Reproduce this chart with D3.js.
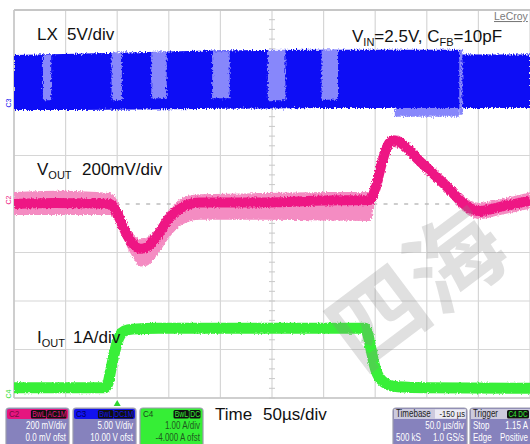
<!DOCTYPE html>
<html><head><meta charset="utf-8">
<script src="https://cdn.jsdelivr.net/npm/d3@7"></script>
<style>
html,body{margin:0;padding:0;background:#fff;}
svg{display:block;font-family:"Liberation Sans",Arial,sans-serif;}
</style></head><body>
<svg id="chart" width="530" height="444"></svg>
<script>
// ---------------- DATA ----------------
// time axis (µs), 50 µs/div, trigger at 0
const timeDomain = [-100, 400];
const timeTicks = d3.range(-100, 401, 50);
const divTicks = d3.range(-4, 5, 1);

// LX (C3, V): envelope of the switching band
const lxTime = [-100, -40, 20, 80, 140, 200, 260, 331, 333, 400];
const lxHigh = [5.35, 5.5, 5.65, 5.8, 5.88, 5.9, 5.9, 5.9, 5.4, 5.4];
const lxLow  = [-0.3, -0.3, -0.25, -0.2, -0.15, -0.1, -0.1, -0.1, -0.1, -0.1];
// pulse-skipping (persistence) regions of LX
const lxSkipStart  = [-72, -5.5, 33, 92, 146, 198, 331.5, 269];
const lxSkipEnd    = [-64, 4.5, 48, 109, 163, 214, 334.5, 331.5];
const lxSkipTop    = [5.36, 5.6, 5.67, 5.75, 5.88, 5.9, 5.9, -0.1];
const lxSkipBottom = [0.7, 0.7, 0.9, 0.9, 0.7, 0.75, -0.8, -1.0];

// VOUT (C2, mV, AC coupled)
const voutTime  = [-100, -60, -20, -7, 0, 3, 10, 16, 22, 28, 38, 51, 63, 80, 143, 200, 245, 251, 256, 261, 266, 272, 293, 318, 340, 350, 371, 400];
const voutMid   = [0, 4, 2, 0, -38, -66, -132, -168, -185, -180, -136, -54, -14, 6, 6, 14, 16, 78, 161, 231, 262, 258, 177, 78, -12, -29, -12, 14];
const voutUpper = [50, 55, 50, 45, 15, -20, -90, -125, -145, -140, -100, -20, 25, 40, 45, 50, 50, 108, 190, 258, 285, 282, 205, 108, 20, 5, 20, 48];
const voutLower = [-45, -45, -45, -45, -85, -110, -180, -225, -258, -255, -215, -135, -85, -65, -65, -68, -70, 45, 130, 200, 235, 232, 150, 48, -45, -62, -45, -20];

// IOUT (C4, A)
const ioutTime  = [-100, -12, -9, -6, -3, 0, 3, 7, 15, 40, 120, 200, 240, 243, 246, 249, 252, 256, 262, 272, 300, 400];
const ioutValue = [0.21, 0.21, 0.3, 0.6, 0.9, 1.15, 1.3, 1.38, 1.42, 1.44, 1.44, 1.44, 1.44, 1.3, 1.0, 0.7, 0.5, 0.37, 0.28, 0.23, 0.21, 0.2];

// channel scale settings: [V/div, offset]
const c2Setting = [200, 0];
const c3Setting = [5, 10];
const c4Setting = [1, -4];

// descriptor boxes
const descTitles   = ["C2", "C3", "C4"];
const descTags     = [["BwL", "AC1M"], ["BwL", "DC1M"], ["BwL", "DC"]];
const descScale    = ["200 mV/div", "5.00 V/div", "1.00 A/div"];
const descOffset   = ["0.0 mV ofst", "10.00 V ofst", "-4.000 A ofst"];
const timebaseInfo = ["Timebase", "-150 µs", "50.0 µs/div", "500 kS", "1.0 GS/s"];
const triggerInfo  = ["Trigger", "C4 DC", "Stop", "1.15 A", "Edge", "Positive"];
const watermarkText = "四海";

// ---------------- DRAWING ----------------
const svg = d3.select("#chart");
const L = 14, R = 530, T = 10, B = 398;
const x = d3.scaleLinear().domain(timeDomain).range([L, R]);
const yDiv = d3.scaleLinear().domain([-4, 4]).range([B, T]);
function chanScale(s) { // div = (v + offset)/vdiv
  return d3.scaleLinear().domain([-4 * s[0] - s[1], 4 * s[0] - s[1]]).range([B, T]);
}
const yVout = chanScale(c2Setting);
const yLX = chanScale(c3Setting);
const yIout = chanScale(c4Setting);

const defs = svg.append("defs");
defs.append("clipPath").attr("id", "plot").append("rect")
  .attr("x", L).attr("y", T).attr("width", R - L).attr("height", B - T);
function fuzz(id, freq, scale, seed) {
  const f = defs.append("filter").attr("id", id).attr("filterUnits", "userSpaceOnUse")
    .attr("x", 0).attr("y", 0).attr("width", 530).attr("height", 444);
  f.append("feTurbulence").attr("type", "fractalNoise").attr("baseFrequency", freq)
    .attr("numOctaves", 2).attr("seed", seed).attr("result", "n");
  f.append("feDisplacementMap").attr("in", "SourceGraphic").attr("in2", "n")
    .attr("scale", scale).attr("xChannelSelector", "R").attr("yChannelSelector", "G");
}
fuzz("fz1", "0.9 0.4", 5, 2);
fuzz("fz2", "0.8 0.5", 4, 5);
fuzz("fz3", "0.7 0.5", 3, 8);

// grid
const grid = svg.append("g");
grid.selectAll("line.v").data(timeTicks).enter().append("line")
  .attr("x1", d => x(d)).attr("x2", d => x(d)).attr("y1", T).attr("y2", B)
  .attr("stroke", "#d6d6d6").attr("stroke-width", 1.2);
grid.selectAll("line.h").data(divTicks.filter(d => d !== 0)).enter().append("line")
  .attr("x1", L).attr("x2", R).attr("y1", d => yDiv(d)).attr("y2", d => yDiv(d))
  .attr("stroke", "#d6d6d6").attr("stroke-width", 1.2);
// center horizontal: dotted
const step = x(10) - x(0);
grid.append("line").attr("x1", L).attr("x2", R).attr("y1", yDiv(0)).attr("y2", yDiv(0))
  .attr("stroke", "#bdbdbd").attr("stroke-width", 1.3)
  .attr("stroke-dasharray", `4 ${step - 4}`).attr("stroke-dashoffset", 2);
// center vertical ticks
const xc = x(150);
grid.selectAll("line.t").data(d3.range(-4, 4.01, 0.2)).enter().append("line")
  .attr("x1", xc - 3).attr("x2", xc + 3).attr("y1", d => yDiv(d)).attr("y2", d => yDiv(d))
  .attr("stroke", "#c8c8c8").attr("stroke-width", 1);
// border
grid.append("line").attr("x1", L).attr("x2", R).attr("y1", T).attr("y2", T).attr("stroke", "#c6c6c6").attr("stroke-width", 2);
grid.append("line").attr("x1", L).attr("x2", L).attr("y1", T).attr("y2", B).attr("stroke", "#c6c6c6").attr("stroke-width", 1.5);
grid.append("line").attr("x1", L).attr("x2", R).attr("y1", B).attr("y2", B).attr("stroke", "#c6c6c6").attr("stroke-width", 1.5);

const plot = svg.append("g").attr("clip-path", "url(#plot)");

// LX
const lxPts = d3.zip(lxTime, lxHigh, lxLow);
plot.append("path").datum(lxPts)
  .attr("d", d3.area().x(d => x(d[0])).y0(d => yLX(d[2])).y1(d => yLX(d[1])))
  .attr("fill", "#0a0af5").attr("filter", "url(#fz1)");
plot.append("g").attr("filter", "url(#fz1)").selectAll("rect")
  .data(d3.zip(lxSkipStart, lxSkipEnd, lxSkipTop, lxSkipBottom)).enter().append("rect")
  .attr("x", d => x(d[0])).attr("width", d => x(d[1]) - x(d[0]))
  .attr("y", d => yLX(d[2])).attr("height", d => yLX(d[3]) - yLX(d[2]))
  .attr("fill", "#8787fb");

// VOUT
const vPts = d3.zip(voutTime, voutMid, voutUpper, voutLower);
plot.append("path").datum(vPts)
  .attr("d", d3.area().x(d => x(d[0])).y0(d => yVout(d[3])).y1(d => yVout(d[2])).curve(d3.curveMonotoneX))
  .attr("fill", "#f48cc2").attr("filter", "url(#fz2)");
plot.append("path").datum(vPts)
  .attr("d", d3.line().x(d => x(d[0])).y(d => yVout(d[1])).curve(d3.curveMonotoneX))
  .attr("fill", "none").attr("stroke", "#ee1784").attr("stroke-width", 10)
  .attr("stroke-linejoin", "round").attr("filter", "url(#fz2)");

// IOUT
plot.append("path").datum(d3.zip(ioutTime, ioutValue))
  .attr("d", d3.line().x(d => x(d[0])).y(d => yIout(d[1])).curve(d3.curveMonotoneX))
  .attr("fill", "none").attr("stroke", "#38ef38").attr("stroke-width", 11)
  .attr("stroke-linejoin", "round").attr("filter", "url(#fz3)");

// watermark
svg.append("text").text(watermarkText)
  .attr("transform", "translate(422,296) rotate(-37)")
  .attr("text-anchor", "middle").attr("dominant-baseline", "middle")
  .attr("font-family", "'Noto Sans CJK SC'").attr("font-size", 96).attr("font-weight", 700)
  .attr("fill", "#8a8a8a").attr("opacity", 0.26);

// channel markers
const markers = [["C3", yLX(0), "#1010f0"], ["C2", yVout(0), "#ee1784"], ["C4", yIout(0), "#30dd30"]];
markers.forEach(m => {
  svg.append("text").text(m[0])
    .attr("transform", `translate(11,${m[1] - 4}) rotate(-90)`)
    .attr("text-anchor", "middle").attr("font-size", 7).attr("fill", m[2]);
});
// trigger marker
const tx = x(0);
svg.append("path").attr("d", `M${tx - 3.5},406 L${tx},400 L${tx + 3.5},406 Z`).attr("fill", "#2fd52f");

// labels
const lab = svg.append("g").attr("font-size", 17).attr("fill", "#111");
lab.append("text").attr("x", 37).attr("y", 40).text("LX");
lab.append("text").attr("x", 67).attr("y", 40).text("5V/div");
const vin = lab.append("text").attr("x", 352).attr("y", 42);
vin.append("tspan").text("V");
vin.append("tspan").attr("font-size", 11).attr("dy", 4).text("IN");
vin.append("tspan").attr("dy", -4).text("=2.5V, C");
vin.append("tspan").attr("font-size", 11).attr("dy", 4).text("FB");
vin.append("tspan").attr("dy", -4).text("=10pF");
const vo = lab.append("text").attr("x", 37).attr("y", 175);
vo.append("tspan").text("V");
vo.append("tspan").attr("font-size", 11).attr("dy", 4).text("OUT");
lab.append("text").attr("x", 82).attr("y", 175).text("200mV/div");
const io = lab.append("text").attr("x", 37).attr("y", 343);
io.append("tspan").text("I");
io.append("tspan").attr("font-size", 11).attr("dy", 4).text("OUT");
lab.append("text").attr("x", 73).attr("y", 343).text("1A/div");
lab.append("text").attr("x", 215).attr("y", 420).text("Time");
lab.append("text").attr("x", 263).attr("y", 420).text("50µs/div");
svg.append("text").attr("x", 494).attr("y", 20).attr("font-size", 10.5)
  .attr("fill", "#7a7a7a").attr("text-decoration", "underline").text("LeCroy");

// condensed text helper
function ctext(g, xp, yp, str, anchor, size, fill, sx) {
  return g.append("text").attr("transform", `translate(${xp},${yp}) scale(${sx || 0.8},1)`)
    .attr("text-anchor", anchor).attr("font-size", size).attr("fill", fill).text(str);
}

// descriptor boxes
const boxX = [6, 73, 140], boxW = 63, bTop = 408, bBot = 448;
const chanCol = ["#e6157f", "#1212ee", "#36ee36"];
const titleCol = ["#7a0a44", "#00005a", "#1a4a1a"];
descTitles.forEach((t, i) => {
  const g = svg.append("g");
  const x0 = boxX[i];
  const isC4 = i === 2;
  g.append("rect").attr("x", x0).attr("y", bTop).attr("width", boxW).attr("height", bBot - bTop)
    .attr("rx", 3).attr("fill", isC4 ? chanCol[i] : "#8682bd").attr("stroke", "#9c9cae").attr("stroke-width", 1.2);
  if (!isC4) g.append("rect").attr("x", x0 + 1).attr("y", bTop + 1).attr("width", boxW - 2).attr("height", 10)
    .attr("rx", 2).attr("fill", chanCol[i]);
  ctext(g, x0 + 3, bTop + 9, t, "start", 9, titleCol[i], 0.9);
  const tags = descTags[i];
  const tagW = tags.map(s => s.length * 4.3 + 3);
  let tx2 = x0 + boxW - 2;
  for (let k = tags.length - 1; k >= 0; k--) {
    const tx1 = tx2 - tagW[k];
    g.append("rect").attr("x", tx1).attr("y", bTop + 2).attr("width", tagW[k] - 0.5).attr("height", 8.5)
      .attr("rx", 1.5).attr("fill", "#111");
    ctext(g, (tx1 + tx2) / 2, bTop + 9, tags[k], "middle", 8.5, isC4 ? "#36ee36" : chanCol[i], 0.8);
    tx2 = tx1;
  }
  const bc = isC4 ? "#1f5a1f" : "#fff";
  ctext(g, x0 + boxW - 3, bTop + 21, descScale[i], "end", 10, bc, 0.8);
  ctext(g, x0 + boxW - 3, bTop + 33, descOffset[i], "end", 10, bc, 0.8);
});

// timebase box
(function () {
  const g = svg.append("g");
  const x0 = 393, w = 74;
  g.append("rect").attr("x", x0).attr("y", bTop).attr("width", w).attr("height", bBot - bTop)
    .attr("rx", 3).attr("fill", "#8682bd").attr("stroke", "#9c9cae").attr("stroke-width", 1.2);
  g.append("rect").attr("x", x0 + 1).attr("y", bTop + 1).attr("width", w - 2).attr("height", 10).attr("fill", "#cccade");
  g.append("rect").attr("x", x0 + 42).attr("y", bTop + 1.5).attr("width", w - 43.5).attr("height", 9).attr("fill", "#ecebf4");
  ctext(g, x0 + 3, bTop + 9, timebaseInfo[0], "start", 10, "#222", 0.8);
  ctext(g, x0 + w - 2, bTop + 9, timebaseInfo[1], "end", 9.5, "#222", 0.8);
  ctext(g, x0 + w - 3, bTop + 21, timebaseInfo[2], "end", 10, "#fff", 0.8);
  ctext(g, x0 + 3, bTop + 33, timebaseInfo[3], "start", 10, "#fff", 0.8);
  ctext(g, x0 + w - 3, bTop + 33, timebaseInfo[4], "end", 10, "#fff", 0.8);
})();

// trigger box
(function () {
  const g = svg.append("g");
  const x0 = 470, w = 72;
  g.append("rect").attr("x", x0).attr("y", bTop).attr("width", w).attr("height", bBot - bTop)
    .attr("rx", 3).attr("fill", "#8682bd").attr("stroke", "#9c9cae").attr("stroke-width", 1.2);
  g.append("rect").attr("x", x0 + 1).attr("y", bTop + 1).attr("width", w - 2).attr("height", 10).attr("fill", "#cccade");
  ctext(g, x0 + 3, bTop + 9, triggerInfo[0], "start", 10, "#222", 0.8);
  g.append("rect").attr("x", x0 + 37).attr("y", bTop + 2).attr("width", 22).attr("height", 8.5).attr("rx", 1.5).attr("fill", "#111");
  ctext(g, x0 + 48, bTop + 9, triggerInfo[1], "middle", 8.5, "#36ee36", 0.75);
  ctext(g, x0 + 3, bTop + 21, triggerInfo[2], "start", 10, "#fff", 0.8);
  ctext(g, x0 + 58, bTop + 21, triggerInfo[3], "end", 10, "#fff", 0.8);
  ctext(g, x0 + 3, bTop + 33, triggerInfo[4], "start", 10, "#fff", 0.8);
  ctext(g, x0 + 58, bTop + 33, triggerInfo[5], "end", 10, "#fff", 0.8);
})();
</script>
</body></html>
